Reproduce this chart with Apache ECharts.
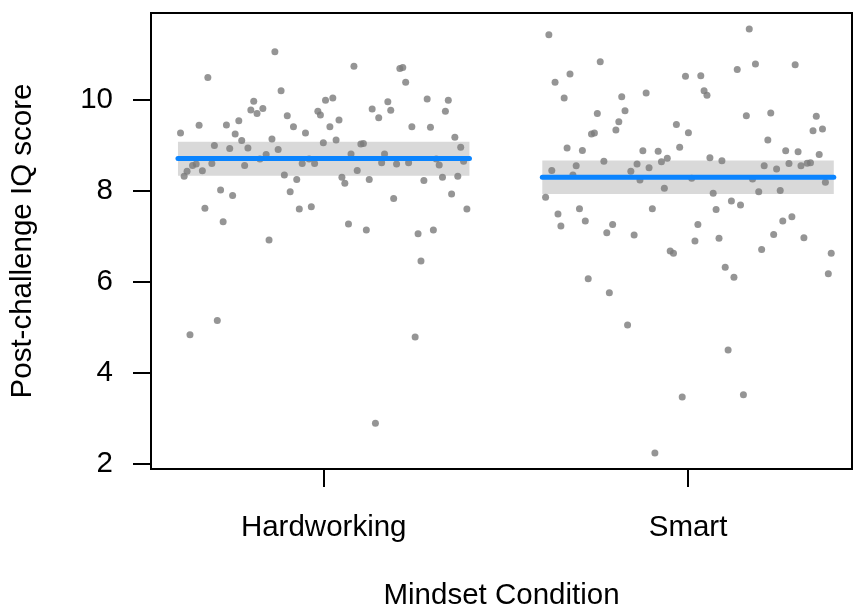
<!DOCTYPE html>
<html>
<head>
<meta charset="utf-8">
<script src="https://cdn.jsdelivr.net/npm/echarts@6/dist/echarts.min.js"></script>
<style>
  html, body { margin: 0; padding: 0; background: #fff; }
  #main { width: 853px; height: 616px; }
</style>
</head>
<body>
<div id="main"></div>
<script>
// groups on the x axis (1 = Hardworking, 2 = Smart)
var categories = ['Hardworking', 'Smart'];
var groupCenters = [1, 2];
var groupMeans = [8.71, 8.30];
var ciLow = [8.33, 7.93];
var ciHigh = [9.08, 8.67];
var halfWidth = 0.4;

// jittered points, [x, score]
var hardworkingPoints = [
  [0.866, 11.06], [0.682, 10.49], [0.883, 10.20], [0.808, 9.97], [1.005, 9.99],
  [0.800, 9.78], [0.817, 9.70], [0.833, 9.81], [0.984, 9.75], [0.991, 9.67],
  [0.900, 9.65], [0.767, 9.54], [0.733, 9.45], [0.658, 9.44], [0.917, 9.41],
  [0.607, 9.27], [0.757, 9.25], [0.950, 9.27], [0.775, 9.11], [0.858, 9.14],
  [0.999, 9.06], [0.700, 9.00], [0.742, 8.93], [0.792, 8.94], [0.875, 8.91],
  [0.842, 8.80], [0.825, 8.70], [0.960, 8.70], [0.693, 8.60], [0.650, 8.59],
  [0.640, 8.56], [0.941, 8.60], [0.975, 8.60], [0.783, 8.56], [0.667, 8.44],
  [0.625, 8.43], [0.617, 8.32], [0.892, 8.35], [0.926, 8.25], [0.717, 8.02],
  [0.750, 7.90], [0.908, 7.98], [0.674, 7.62], [0.933, 7.60], [0.966, 7.65],
  [0.724, 7.32], [0.850, 6.92],
  [1.083, 10.74], [1.209, 10.69], [1.217, 10.71], [1.225, 10.39], [1.025, 10.04],
  [1.176, 9.96], [1.284, 10.02], [1.342, 9.99], [1.133, 9.80], [1.184, 9.77],
  [1.334, 9.75], [1.151, 9.61], [1.042, 9.56], [1.017, 9.41], [1.242, 9.41],
  [1.293, 9.40], [1.034, 9.12], [1.102, 9.03], [1.109, 9.04], [1.360, 9.18],
  [1.376, 8.96], [1.075, 8.81], [1.167, 8.81], [1.159, 8.62], [1.200, 8.59],
  [1.233, 8.62], [1.309, 8.70], [1.317, 8.57], [1.384, 8.65], [1.092, 8.45],
  [1.050, 8.30], [1.058, 8.17], [1.125, 8.25], [1.275, 8.23], [1.326, 8.30],
  [1.368, 8.32], [1.351, 7.93], [1.192, 7.83], [1.393, 7.60], [1.068, 7.27],
  [1.117, 7.14], [1.259, 7.06], [1.301, 7.14], [1.267, 6.46], [0.708, 5.15],
  [0.633, 4.84], [1.251, 4.79], [1.142, 2.89]
];
var smartPoints = [
  [1.618, 11.43], [1.759, 10.84], [1.676, 10.57], [1.635, 10.39], [1.993, 10.52],
  [2.035, 10.53], [1.660, 10.04], [1.818, 10.07], [1.885, 10.15], [1.827, 9.76],
  [1.751, 9.70], [1.810, 9.52], [1.802, 9.34], [1.735, 9.25], [1.743, 9.27],
  [1.968, 9.46], [2.001, 9.28], [1.668, 8.94], [1.710, 8.89], [1.876, 8.88],
  [1.918, 8.87], [1.977, 8.96], [1.769, 8.65], [1.927, 8.64], [1.943, 8.72],
  [1.693, 8.55], [1.860, 8.59], [1.893, 8.51], [1.626, 8.45], [1.843, 8.43],
  [1.684, 8.35], [1.868, 8.24], [1.935, 8.06], [1.609, 7.86], [1.702, 7.61],
  [1.902, 7.61], [1.643, 7.49], [1.718, 7.34], [1.651, 7.23], [1.793, 7.26],
  [1.777, 7.08], [1.852, 7.03], [1.951, 6.68], [1.960, 6.63],
  [2.168, 11.56], [2.185, 10.79], [2.135, 10.67], [2.294, 10.77], [2.044, 10.20],
  [2.052, 10.10], [2.160, 9.65], [2.227, 9.71], [2.352, 9.64], [2.343, 9.32],
  [2.369, 9.36], [2.219, 9.12], [2.268, 8.88], [2.302, 8.86], [2.360, 8.80],
  [2.060, 8.73], [2.093, 8.66], [2.209, 8.55], [2.243, 8.48], [2.277, 8.60],
  [2.310, 8.55], [2.327, 8.61], [2.336, 8.62], [2.010, 8.28], [2.177, 8.26],
  [2.377, 8.19], [2.069, 7.95], [2.194, 7.98], [2.253, 8.01], [2.119, 7.78],
  [2.144, 7.69], [2.077, 7.59], [2.285, 7.43], [2.260, 7.34], [2.027, 7.26],
  [2.085, 6.96], [2.235, 7.04], [2.318, 6.97], [2.019, 6.90], [2.202, 6.71],
  [1.726, 6.07], [1.784, 5.76], [1.834, 5.05], [1.984, 3.47], [1.909, 2.24],
  [2.393, 6.63], [2.102, 6.32], [2.126, 6.10], [2.385, 6.18], [2.110, 4.50],
  [2.152, 3.52]
];

// axis ticks
var xTicks = [1, 2];
var yTicks = [2, 4, 6, 8, 10];

var fontFamily = "'Liberation Sans', Arial, sans-serif";
var fontSize = 29.5;

// one row per group: center, mean, low, high
var groupRows = groupCenters.map(function (c, i) {
  return [c, groupMeans[i], ciLow[i], ciHigh[i]];
});

var myChart = echarts.init(document.getElementById('main'), null, { renderer: 'canvas' });

var option = {
  animation: false,
  backgroundColor: '#fff',
  grid: {
    left: 151, top: 13, width: 701, height: 460.5,
    show: true, borderColor: '#000', borderWidth: 2,
    backgroundColor: 'transparent'
  },
  xAxis: {
    type: 'value',
    min: 0.526, max: 2.45,
    splitLine: { show: false },
    axisLine: { show: false, onZero: false },
    axisTick: {
      show: true, length: 18, customValues: xTicks,
      lineStyle: { color: '#000', width: 2 }
    },
    axisLabel: {
      customValues: xTicks,
      formatter: function (v) { return categories[Math.round(v) - 1]; },
      fontSize: fontSize, color: '#000', fontFamily: fontFamily, margin: 44
    },
    name: 'Mindset Condition',
    nameLocation: 'middle',
    nameGap: 112,
    nameTextStyle: { fontSize: fontSize, color: '#000', fontFamily: fontFamily }
  },
  yAxis: {
    type: 'value',
    min: 1.887, max: 11.91,
    splitLine: { show: false },
    axisLine: { show: false, onZero: false },
    axisTick: {
      show: true, length: 18, customValues: yTicks,
      lineStyle: { color: '#000', width: 2 }
    },
    axisLabel: {
      customValues: yTicks,
      fontSize: fontSize, color: '#000', fontFamily: fontFamily, margin: 38
    },
    name: 'Post-challenge IQ score',
    nameLocation: 'middle',
    nameRotate: 90,
    nameGap: 113,
    nameTextStyle: { fontSize: fontSize, color: '#000', fontFamily: fontFamily }
  },
  series: [
    {
      // confidence band
      type: 'custom',
      z: 1,
      data: groupRows,
      renderItem: function (params, api) {
        var p0 = api.coord([api.value(0) - halfWidth, api.value(3)]);
        var p1 = api.coord([api.value(0) + halfWidth, api.value(2)]);
        return {
          type: 'rect',
          shape: { x: p0[0], y: p0[1], width: p1[0] - p0[0], height: p1[1] - p0[1] },
          style: { fill: '#d9d9d9' }
        };
      }
    },
    {
      type: 'scatter',
      z: 2,
      data: hardworkingPoints,
      symbolSize: 7,
      itemStyle: { color: '#7a7a7a' }
    },
    {
      type: 'scatter',
      z: 2,
      data: smartPoints,
      symbolSize: 7,
      itemStyle: { color: '#7a7a7a' }
    },
    {
      // group means
      type: 'custom',
      z: 3,
      data: groupRows,
      renderItem: function (params, api) {
        var a = api.coord([api.value(0) - halfWidth, api.value(1)]);
        var b = api.coord([api.value(0) + halfWidth, api.value(1)]);
        return {
          type: 'line',
          shape: { x1: a[0], y1: a[1], x2: b[0], y2: b[1] },
          style: { stroke: '#0a84ff', lineWidth: 5, lineCap: 'round' }
        };
      }
    }
  ]
};

myChart.setOption(option);
</script>
</body>
</html>
